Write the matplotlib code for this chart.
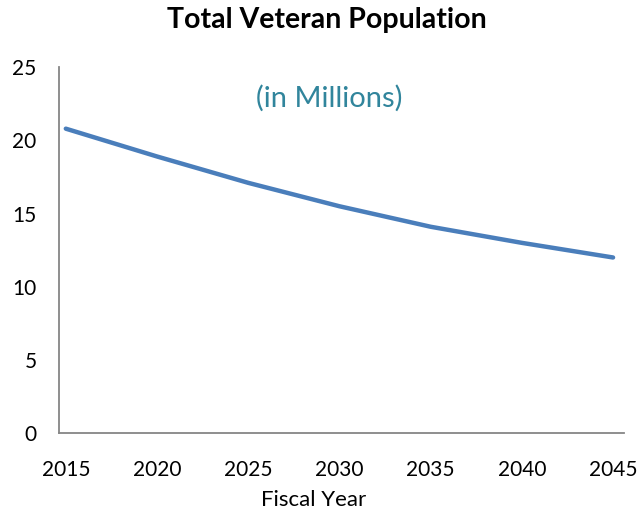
import matplotlib.pyplot as plt

years = [2015, 2020, 2025, 2030, 2035, 2040, 2045]
veterans = [20.8, 18.9, 17.1, 15.5, 14.1, 13.0, 12.0]   # millions

y_ticks = [0, 5, 10, 15, 20, 25]
x_ticks = [2015, 2020, 2025, 2030, 2035, 2040, 2045]

plt.rcParams['font.family'] = ['Lato', 'DejaVu Sans']

fig = plt.figure(figsize=(6.4, 5.09), dpi=100)
ax = fig.add_axes([0.092, 0.149, 0.883, 0.719])

ax.plot(years, veterans, color='#4A7EBB', linewidth=3.2, solid_capstyle='round')

ax.set_xlim(2014.62, 2045.6)
ax.set_ylim(0, 25)
ax.set_xticks(x_ticks)
ax.set_yticks(y_ticks)

for side in ['top', 'right']:
    ax.spines[side].set_visible(False)
for side in ['left', 'bottom']:
    ax.spines[side].set_color('#868686')
    ax.spines[side].set_linewidth(1.3)

ax.tick_params(axis='both', length=0, labelsize=15, colors='black')
ax.tick_params(axis='x', pad=19)
ax.tick_params(axis='y', pad=16)

ax.set_xlabel('Fiscal Year', fontsize=16)
ax.xaxis.set_label_coords(0.45, -0.155)
fig.text(0.511, 0.96, 'Total Veteran Population', ha='center', va='center',
         fontsize=20.5, fontweight='bold')
ax.text(0.478, 0.915, '(in Millions)', transform=ax.transAxes, ha='center', va='center',
        fontsize=21, color='#31859C')

fig.savefig('out.png', dpi=100)
